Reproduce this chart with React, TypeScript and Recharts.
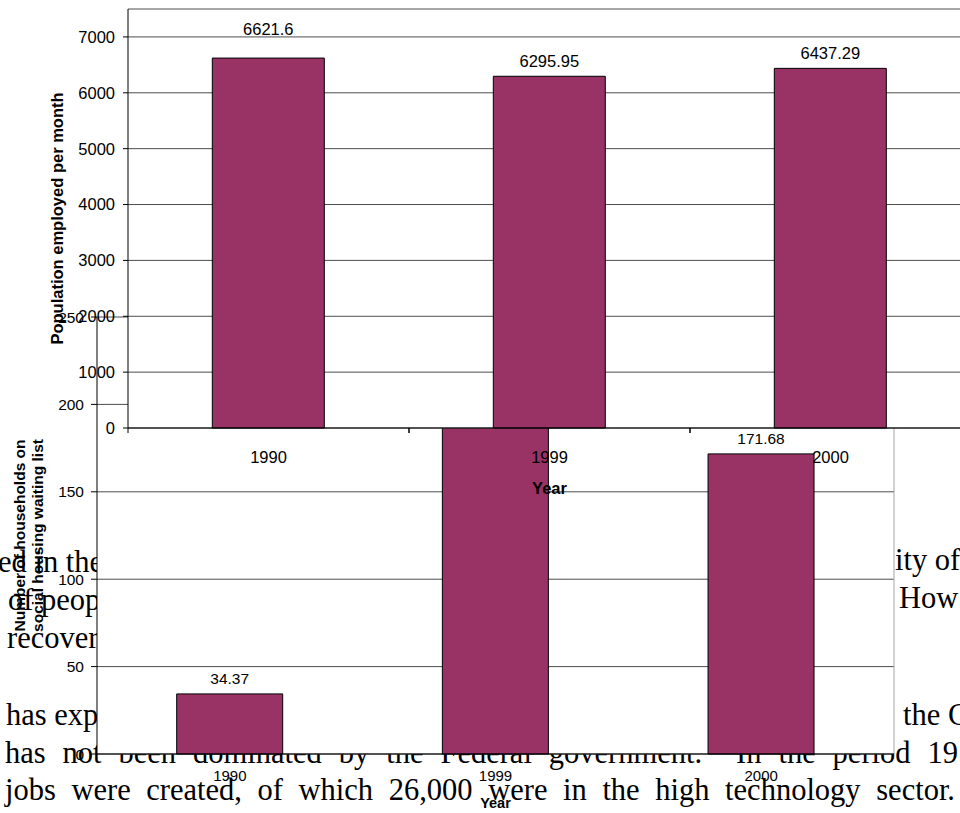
import React from "react";
import {
  BarChart,
  Bar,
  XAxis,
  YAxis,
  CartesianGrid,
  LabelList,
  Label,
} from "recharts";

const YEARS = ["1990", "1999", "2000"];
const EMPLOYED = [6621.6, 6295.95, 6437.29];
const WAITING_LIST = [34.37, 218, 171.68];
const EMPLOYED_TICKS = [0, 1000, 2000, 3000, 4000, 5000, 6000, 7000];
const WAITING_TICKS = [0, 50, 100, 150, 200, 250];

const employedData = YEARS.map((year, i) => ({ year, value: EMPLOYED[i] }));
const waitingData = YEARS.map((year, i) => ({ year, value: WAITING_LIST[i] }));

const SANS = '"Liberation Sans", Arial, sans-serif';
const SERIF = '"Liberation Serif", "Times New Roman", serif';
const PLUM = "#993366";
const GRID = "#4d4d4d";
const BORDER = "#a6a6a6";

// top chart plot is 843px wide, three categories
const TOP_HALF_BAND = 843 / 3 / 2;

const yearTick = (fontSize: number, baseline: number, halfBand?: number) => (props: any) => {
  const { x, y, payload } = props;
  return (
    <g>
      {halfBand !== undefined && (
        <>
          <line x1={x - halfBand} x2={x - halfBand} y1={y} y2={y + 5} stroke="#000" />
          <line x1={x + halfBand} x2={x + halfBand} y1={y} y2={y + 5} stroke="#000" />
        </>
      )}
      <text x={x} y={y + baseline} textAnchor="middle" fontFamily={SANS} fontSize={fontSize} fill="#000">
        {payload.value}
      </text>
    </g>
  );
};

const valueLabel = (fontSize: number, lift: (i: number) => number) => (props: any) => {
  const { x, y, width, value, index } = props;
  return (
    <text
      x={Number(x) + Number(width) / 2}
      y={Number(y) - lift(index)}
      textAnchor="middle"
      fontFamily={SANS}
      fontSize={fontSize}
      fill="#000"
    >
      {value}
    </text>
  );
};

const axisTitle = (lines: string[], fontSize: number, baselines: number[]) => (props: any) => {
  const vb = props.viewBox;
  const cy = vb.y + vb.height / 2;
  return (
    <g transform={`translate(0,${cy}) rotate(-90)`}>
      {lines.map((line, i) => (
        <text
          key={line}
          x={0}
          y={baselines[i]}
          textAnchor="middle"
          fontFamily={SANS}
          fontWeight="bold"
          fontSize={fontSize}
          fill="#000"
        >
          {line}
        </text>
      ))}
    </g>
  );
};

const yearTitle = (fontSize: number, baseline: number) => (props: any) => {
  const vb = props.viewBox;
  return (
    <text
      x={vb.x + vb.width / 2}
      y={vb.y + baseline}
      textAnchor="middle"
      fontFamily={SANS}
      fontWeight="bold"
      fontSize={fontSize}
      fill="#000"
    >
      Year
    </text>
  );
};

// light outline on the top and right edges of the plot area
const plotOutline = (
  <CartesianGrid
    stroke={BORDER}
    strokeDasharray=""
    horizontalCoordinatesGenerator={({ offset }: any) => [offset.top]}
    verticalCoordinatesGenerator={({ offset }: any) => [offset.left + offset.width]}
  />
);

function ProseLine({
  left,
  baseline,
  width,
  children,
}: {
  left: number;
  baseline: number;
  width?: number;
  children: React.ReactNode;
}) {
  return (
    <div
      style={{
        position: "absolute",
        left,
        top: baseline - 30,
        width: width ?? "auto",
        whiteSpace: width ? "normal" : "nowrap",
        textAlign: width ? "justify" : "left",
        textAlignLast: width ? "justify" : "auto",
        fontFamily: SERIF,
        fontSize: 30.5,
        lineHeight: "40px",
        color: "#000",
      }}
    >
      {children}
    </div>
  );
}

function Prose() {
  return (
    <div style={{ position: "absolute", left: 0, top: 0, width: 960, height: 813 }}>
      <ProseLine left={-2} baseline={572}>ed in the</ProseLine>
      <ProseLine left={8} baseline={610}>of people</ProseLine>
      <ProseLine left={7} baseline={648}>recovery</ProseLine>
      <ProseLine left={6} baseline={725}>has experienced</ProseLine>
      <ProseLine left={895} baseline={570}>ity of</ProseLine>
      <ProseLine left={899} baseline={608}>How</ProseLine>
      <ProseLine left={903} baseline={725}>the C</ProseLine>
      <ProseLine left={5} baseline={763} width={953}>
        has not been dominated by the Federal government.{"\u00a0"} In the period 19
      </ProseLine>
      <ProseLine left={5} baseline={800} width={950}>
        jobs were created, of which 26,000 were in the high technology sector.
      </ProseLine>
    </div>
  );
}

function WaitingListChart() {
  return (
    <div style={{ position: "absolute", left: 0, top: 300 }}>
      <BarChart
        width={910}
        height={513}
        data={waitingData}
        margin={{ top: 17, right: 16, left: 0, bottom: 0 }}
        barCategoryGap="30%"
      >
        <CartesianGrid vertical={false} stroke={GRID} strokeDasharray="" fill="#fff" />
        {plotOutline}
        <XAxis
          dataKey="year"
          height={59}
          axisLine={{ stroke: "#000" }}
          tickLine={false}
          tickSize={0}
          tickMargin={0}
          tick={yearTick(15, 27)}
        >
          <Label content={yearTitle(14.5, 54)} />
        </XAxis>
        <YAxis
          width={97}
          domain={[0, 250]}
          ticks={WAITING_TICKS}
          interval={0}
          axisLine={{ stroke: "#000" }}
          tickLine={{ stroke: "#000" }}
          tickSize={6}
          tickMargin={7}
          tick={{ fontFamily: SANS, fontSize: 15.5, fill: "#000" }}
        >
          <Label
            content={axisTitle(
              ["Number of households on", "social housing waiting list"],
              15.5,
              [25, 43]
            )}
          />
        </YAxis>
        <Bar dataKey="value" fill={PLUM} stroke="#000" strokeWidth={1} isAnimationActive={false}>
          <LabelList dataKey="value" content={valueLabel(15.5, () => 10)} />
        </Bar>
      </BarChart>
    </div>
  );
}

function EmploymentChart() {
  return (
    <div style={{ position: "absolute", left: 0, top: 0 }}>
      <BarChart
        width={990}
        height={500}
        data={employedData}
        margin={{ top: 9, right: 19, left: 0, bottom: 0 }}
        barCategoryGap="30%"
      >
        <CartesianGrid vertical={false} stroke={GRID} strokeDasharray="" fill="#fff" />
        {plotOutline}
        <XAxis
          dataKey="year"
          height={72}
          axisLine={{ stroke: "#000" }}
          tickLine={false}
          tickSize={0}
          tickMargin={0}
          tick={yearTick(16.5, 35, TOP_HALF_BAND)}
        >
          <Label content={yearTitle(16.5, 66)} />
        </XAxis>
        <YAxis
          width={128}
          domain={[0, 7500]}
          ticks={EMPLOYED_TICKS}
          interval={0}
          axisLine={{ stroke: "#000" }}
          tickLine={{ stroke: "#000" }}
          tickSize={5}
          tickMargin={8}
          tick={{ fontFamily: SANS, fontSize: 16.5, fill: "#000" }}
        >
          <Label content={axisTitle(["Population employed per month"], 16.5, [63])} />
        </YAxis>
        <Bar dataKey="value" fill={PLUM} stroke="#000" strokeWidth={1} isAnimationActive={false}>
          <LabelList dataKey="value" content={valueLabel(16.5, (i) => (i === 0 ? 23 : 9))} />
        </Bar>
      </BarChart>
    </div>
  );
}

export default function App() {
  return (
    <div
      style={{
        position: "absolute",
        left: 0,
        top: 0,
        width: 960,
        height: 813,
        overflow: "hidden",
        background: "#fff",
      }}
    >
      <Prose />
      <WaitingListChart />
      <EmploymentChart />
    </div>
  );
}
